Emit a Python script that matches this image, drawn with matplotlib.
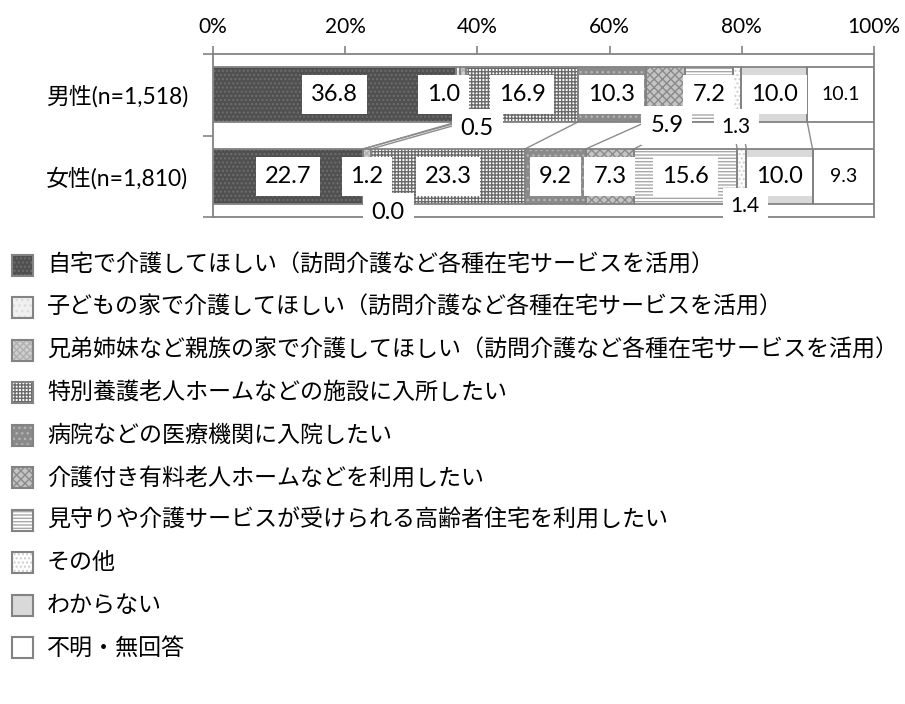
import matplotlib
matplotlib.use("Agg")
import matplotlib.pyplot as plt
from matplotlib.patches import Rectangle
import numpy as np

plt.rcParams['font.family'] = ['Noto Sans CJK JP', 'DejaVu Sans']
plt.rcParams['hatch.linewidth'] = 1.0

# ---- data ----
groups = ["男性(n=1,518)", "女性(n=1,810)"]
series_names = [
    "自宅で介護してほしい（訪問介護など各種在宅サービスを活用）",
    "子どもの家で介護してほしい（訪問介護など各種在宅サービスを活用）",
    "兄弟姉妹など親族の家で介護してほしい（訪問介護など各種在宅サービスを活用）",
    "特別養護老人ホームなどの施設に入所したい",
    "病院などの医療機関に入院したい",
    "介護付き有料老人ホームなどを利用したい",
    "見守りや介護サービスが受けられる高齢者住宅を利用したい",
    "その他",
    "わからない",
    "不明・無回答",
]
male = [36.8, 0.5, 1.0, 16.9, 10.3, 5.9, 7.2, 1.3, 10.0, 10.1]
female = [22.7, 0.0, 1.2, 23.3, 9.2, 7.3, 15.6, 1.4, 10.0, 9.3]
xticks = [0, 20, 40, 60, 80, 100]

# ---- styles ----
faces = ['#505050', '#f0f0f0', '#cfcfcf', '#ffffff', '#8a8a8a',
         '#c4c4c4', '#ffffff', '#ffffff', '#d9d9d9', '#ffffff']
hatchcols = ['#6e6e6e', '#dcdcdc', '#b0b0b0', '#6a6a6a', '#b4b4b4',
             '#8a8a8a', '#a8a8a8', '#cdcdcd', '#d9d9d9', '#ffffff']
hatches = ['....', '...', 'xxxxx', '+++++', '...',
           'xxxx', '-----', '....', None, None]
edge = '#838383'
numfont = ['Lato', 'Noto Sans CJK JP']

fig = plt.figure(figsize=(9.05, 7.04), dpi=100)
W, H = 905, 704
ax = fig.add_axes([213 / W, 1 - 217 / H, 661 / W, 163 / H])

data = np.array([male, female])
cum = np.cumsum(data, axis=1)
lefts = cum - data
ypos = np.arange(len(groups))
bh = 0.67

for i in range(len(series_names)):
    ax.barh(ypos, data[:, i], left=lefts[:, i], height=bh, color=faces[i],
            edgecolor=hatchcols[i], hatch=hatches[i], linewidth=0, zorder=2)
    ax.barh(ypos, data[:, i], left=lefts[:, i], height=bh, fill=False,
            edgecolor=edge, linewidth=1.3, zorder=3)

# series lines
for k in range(len(series_names) - 1):
    ax.plot([cum[0, k], cum[1, k]], [bh / 2, 1 - bh / 2], color='#8c8c8c',
            lw=1.0, zorder=1.5)

# data labels: (row, series) -> (dx in %, y position, fontsize)
special = {
    (0, 1): (2.9, 0.41, 17),
    (0, 2): (-2.9, 0.0, 17),
    (0, 5): (0.2, 0.38, 17),
    (0, 7): (-0.1, 0.39, 15),
    (0, 9): (0.0, 0.0, 14),
    (1, 1): (3.8, 1.44, 17),
    (1, 7): (0.5, 1.36, 15),
    (1, 9): (0.0, 1.0, 14),
}
for r in range(2):
    for i in range(len(series_names)):
        v = data[r, i]
        xc = lefts[r, i] + v / 2
        dx, yy, fs = special.get((r, i), (0.0, ypos[r], 17))
        ax.text(xc + dx, yy, f"{v:.1f}", ha='center', va='center',
                fontsize=fs, family=numfont, color='black', zorder=6,
                bbox=dict(boxstyle='square,pad=0.38', fc='white', ec='none'))

ax.set_xlim(0, 100)
ax.set_ylim(1.5, -0.5)
ax.xaxis.tick_top()
ax.set_xticks(xticks)
ax.set_xticklabels([f"{t}%" for t in xticks], family=numfont)
ax.tick_params(axis='x', direction='out', length=6, width=1.2, color=edge,
               pad=6, labelsize=15, labelcolor='black')
ax.set_yticks(ypos)
ax.set_yticklabels(groups, family=numfont)
ax.set_yticks([-0.5, 0.5, 1.5], minor=True)
ax.tick_params(axis='y', which='major', length=0, pad=18, labelsize=16.5,
               labelcolor='black')
ax.tick_params(axis='y', which='minor', length=7, width=1.2, color=edge)
for s in ax.spines.values():
    s.set_color(edge)
    s.set_linewidth(1.3)

# legend (manual, figure pixels)
y0 = 265
dy = 42.55
for i, name in enumerate(series_names):
    yc = y0 + i * dy
    sq = 21
    for kw in (dict(facecolor=faces[i], edgecolor=hatchcols[i], hatch=hatches[i], linewidth=0),
               dict(fill=False, edgecolor=edge, linewidth=1.5)):
        fig.add_artist(Rectangle((12 / W, 1 - (yc + sq / 2) / H), sq / W, sq / H,
                                 transform=fig.transFigure, **kw))
    fig.text(47 / W, 1 - yc / H, name, ha='left', va='center', fontsize=16.6,
             color='black')

fig.savefig("out.png", dpi=100)
